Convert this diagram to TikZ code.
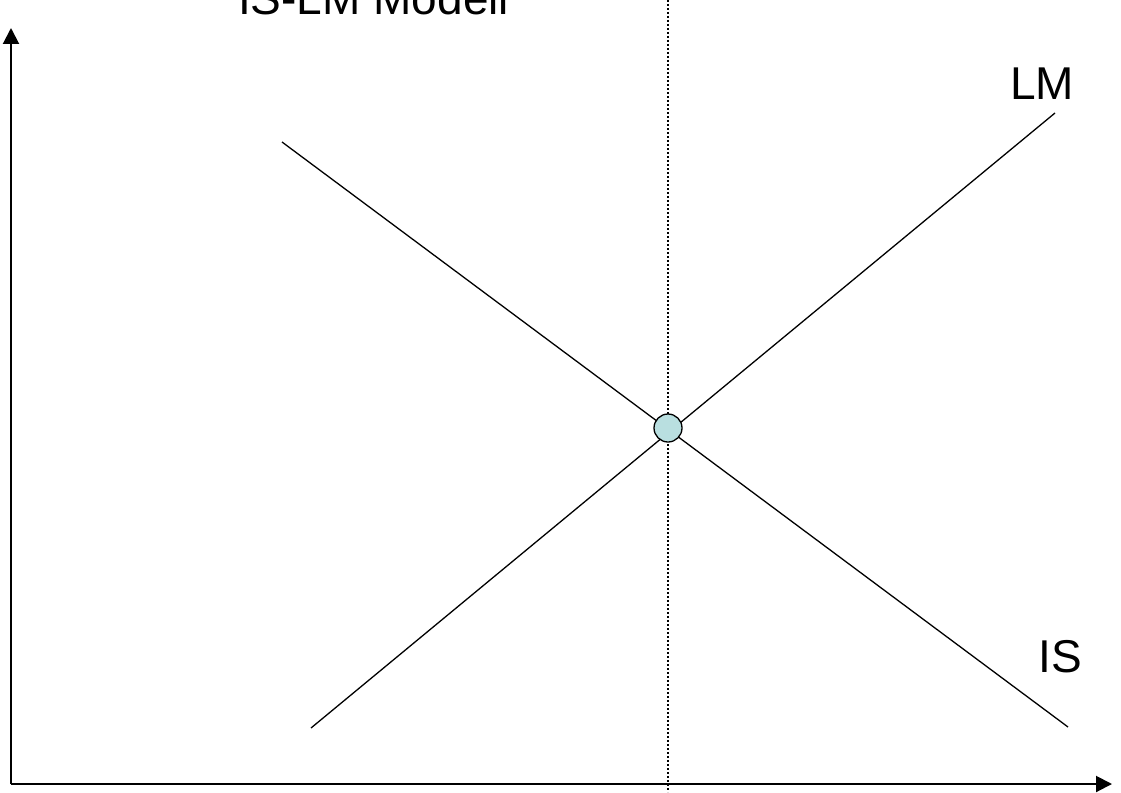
\documentclass[tikz,border=0pt]{standalone}
\usepackage{fontspec}
\setmainfont{Liberation Sans}
\usetikzlibrary{arrows.meta}
\tikzset{
  axis/.style={line width=2pt,-{Triangle[length=16pt,width=16pt]}},
  curve/.style={line width=1.3pt},
  guide/.style={line width=1.5pt,dash pattern=on 2pt off 2pt},
  lbl/.style={inner sep=0pt,anchor=base west,font=\fontsize{46}{55}\selectfont},
  eqpt/.style={circle,draw,line width=1.3pt,fill={rgb,255:red,185;green,223;blue,224},minimum size=28pt,inner sep=0pt}
}
\begin{document}
\begin{tikzpicture}[x=1pt,y=-1pt]
\useasboundingbox (0,0) rectangle (1121,792);
% axes
\coordinate (O) at (11,784);
\coordinate (ytip) at (11,28);
\coordinate (xtip) at (1112,784);
\draw[axis] (O) -- (ytip);
\draw[axis] (O) -- (xtip);
% dotted vertical guide
\coordinate (vtop) at (668,0);
\coordinate (vbot) at (668,792);
\draw[guide] (vtop) -- (vbot);
% curves
\coordinate (is1) at (282,142);
\coordinate (is2) at (1068,727);
\coordinate (lm1) at (311,728);
\coordinate (lm2) at (1055,113);
\draw[curve] (is1) -- (is2);
\draw[curve] (lm1) -- (lm2);
% equilibrium
\node[eqpt] (eq) at (668,428) {};
% labels
\node[lbl] (title) at (238,15) {IS-LM Modell};
\node[lbl] (lmlabel) at (1010,99) {LM};
\node[lbl] (islabel) at (1038,672) {IS};
\end{tikzpicture}
\end{document}
